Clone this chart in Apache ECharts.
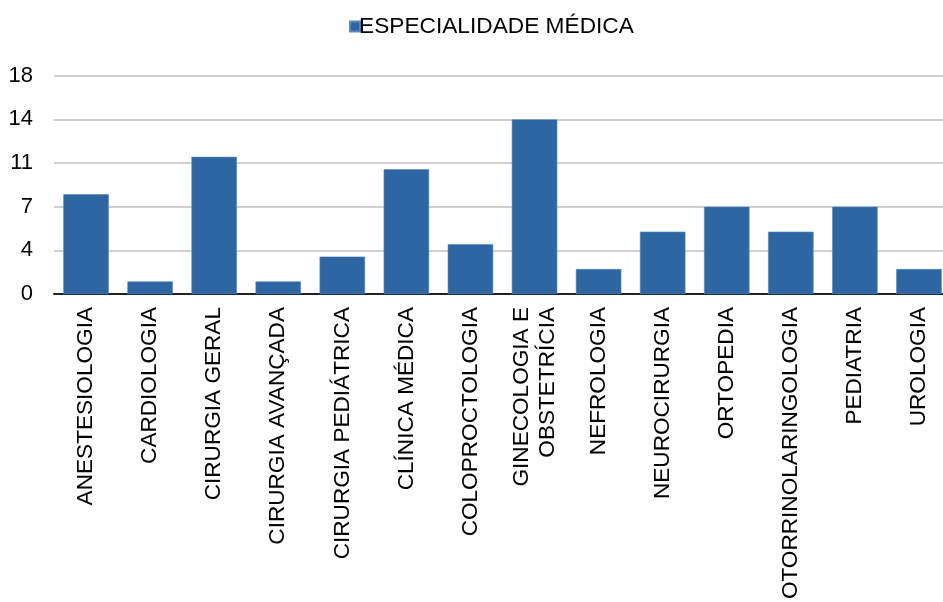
<!DOCTYPE html>
<html>
<head>
<meta charset="utf-8">
<script src="https://cdn.jsdelivr.net/npm/echarts@6/dist/echarts.min.js"></script>
<style>
html,body{margin:0;padding:0;background:#fff;}
#chart{width:943px;height:602px;}
</style>
</head>
<body>
<div id="chart"></div>
<script>
const seriesName = 'ESPECIALIDADE MÉDICA';
const categories = [
  'ANESTESIOLOGIA', 'CARDIOLOGIA', 'CIRURGIA GERAL', 'CIRURGIA AVANÇADA',
  'CIRURGIA PEDIÁTRICA', 'CLÍNICA MÉDICA', 'COLOPROCTOLOGIA',
  'GINECOLOGIA E\nOBSTETRÍCIA', 'NEFROLOGIA', 'NEUROCIRURGIA', 'ORTOPEDIA',
  'OTORRINOLARINGOLOGIA', 'PEDIATRIA', 'UROLOGIA'
];
const values = [8, 1, 11, 1, 3, 10, 4, 14, 2, 5, 7, 5, 7, 2];
const yMin = 0;
const yMax = 17.5;
const yInterval = 3.5;

const chart = echarts.init(document.getElementById('chart'), null, {renderer: 'canvas'});
const font = 'Liberation Sans, Arial, sans-serif';
chart.setOption({
  animation: false,
  backgroundColor: '#ffffff',
  legend: {
    data: [seriesName],
    top: 10,
    left: 344,
    itemWidth: 10,
    itemHeight: 10,
    icon: 'rect',
    textStyle: {fontFamily: font, fontSize: 22.7, color: '#000', padding: [0, 0, 0, -6]}
  },
  grid: {left: 54, width: 897, top: 75.7, height: 218.3, containLabel: false, outerBoundsMode: 'none'},
  xAxis: {
    type: 'category',
    data: categories,
    axisLine: {show: true, lineStyle: {color: '#222', width: 2}},
    axisTick: {show: false},
    axisLabel: {
      rotate: 90,
      interval: 0,
      margin: 13,
      fontFamily: font,
      fontSize: 22.6,
      color: '#000',
      lineHeight: 26
    },
    splitLine: {show: false}
  },
  yAxis: {
    type: 'value',
    min: yMin,
    max: yMax,
    interval: yInterval,
    axisLine: {show: false},
    axisTick: {show: false},
    axisLabel: {
      margin: 21,
      fontFamily: font,
      fontSize: 22,
      color: '#000',
      formatter: v => String(Math.round(v))
    },
    splitLine: {lineStyle: {color: '#cfcfcf', width: 2}}
  },
  series: [{
    name: seriesName,
    type: 'bar',
    data: values,
    barCategoryGap: '29%',
    itemStyle: {color: '#2E65A3', borderColor: '#5B86BE', borderWidth: 0.6}
  }]
});
</script>
</body>
</html>
